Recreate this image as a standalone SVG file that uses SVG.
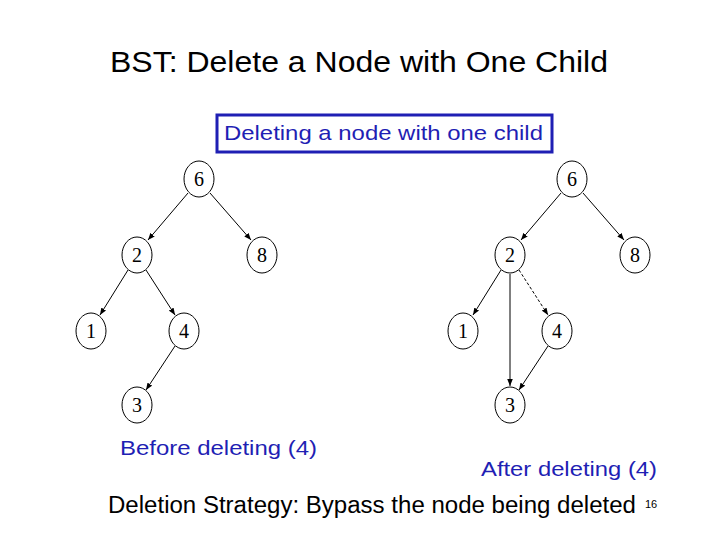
<svg xmlns="http://www.w3.org/2000/svg" width="720" height="540" viewBox="0 0 720 540">
<defs><marker id="a" viewBox="0 0 10 10" refX="10" refY="5" markerWidth="7" markerHeight="7" orient="auto"><path d="M0,1L10,5L0,9z" fill="#000"/></marker></defs>
<style>
.n ellipse{fill:#fff;stroke:#000;stroke-width:1}
.n text{font-family:"Liberation Serif",serif;font-size:20px;text-anchor:middle}
.c line{stroke:#000;stroke-width:1;marker-end:url(#a)}
.t{font-family:"Liberation Sans",Arial,sans-serif}
</style>
<rect width="720" height="540" fill="#fff"/>
<text class="t" x="110" y="72" font-size="30" textLength="498" lengthAdjust="spacingAndGlyphs">BST: Delete a Node with One Child</text>
<rect x="217" y="115" width="335" height="37" fill="#fff" stroke="#1f1fb4" stroke-width="3"/>
<text class="t" x="224" y="140" font-size="21" fill="#1f1fb4" textLength="319" lengthAdjust="spacingAndGlyphs">Deleting a node with one child</text>
<g class="c">
<line x1="188" y1="193" x2="148" y2="240"/><line x1="210" y1="193" x2="251" y2="240"/>
<line x1="128" y1="270" x2="100" y2="315"/><line x1="146" y1="270" x2="175" y2="315"/>
<line x1="175" y1="346" x2="146" y2="390"/>
<line x1="561" y1="193" x2="521" y2="240"/><line x1="583" y1="193" x2="624" y2="240"/>
<line x1="501" y1="270" x2="473" y2="315"/><line x1="519" y1="270" x2="548" y2="315" stroke-dasharray="3,2"/>
<line x1="548" y1="346" x2="519" y2="390"/>
<line x1="510" y1="274" x2="510" y2="386" stroke-width="1.8"/>
</g>
<g id="L6" class="n"><ellipse cx="199" cy="179" rx="15" ry="18"/><text x="199" y="186">6</text></g>
<g id="L2" class="n"><ellipse cx="137" cy="255" rx="15" ry="18"/><text x="137" y="262">2</text></g>
<g id="L8" class="n"><ellipse cx="262" cy="255" rx="15" ry="18"/><text x="262" y="262">8</text></g>
<g id="L1" class="n"><ellipse cx="91" cy="331" rx="15" ry="18"/><text x="91" y="338">1</text></g>
<g id="L4" class="n"><ellipse cx="184" cy="331" rx="15" ry="18"/><text x="184" y="338">4</text></g>
<g id="L3" class="n"><ellipse cx="137" cy="405" rx="15" ry="18"/><text x="137" y="412">3</text></g>
<g id="R6" class="n"><ellipse cx="572" cy="179" rx="15" ry="18"/><text x="572" y="186">6</text></g>
<g id="R2" class="n"><ellipse cx="510" cy="255" rx="15" ry="18"/><text x="510" y="262">2</text></g>
<g id="R8" class="n"><ellipse cx="635" cy="255" rx="15" ry="18"/><text x="635" y="262">8</text></g>
<g id="R1" class="n"><ellipse cx="463" cy="331" rx="15" ry="18"/><text x="463" y="338">1</text></g>
<g id="R4" class="n"><ellipse cx="557" cy="331" rx="15" ry="18"/><text x="557" y="338">4</text></g>
<g id="R3" class="n"><ellipse cx="510" cy="405" rx="15" ry="18"/><text x="510" y="412">3</text></g>
<text class="t" x="120" y="455" font-size="21" fill="#1f1fb4" textLength="197" lengthAdjust="spacingAndGlyphs">Before deleting (4)</text>
<text class="t" x="481" y="476" font-size="21" fill="#1f1fb4" textLength="176" lengthAdjust="spacingAndGlyphs">After deleting (4)</text>
<text class="t" x="108" y="513" font-size="23" textLength="528" lengthAdjust="spacingAndGlyphs">Deletion Strategy: Bypass the node being deleted</text>
<text class="t" x="645" y="508" font-size="11">16</text>
</svg>
